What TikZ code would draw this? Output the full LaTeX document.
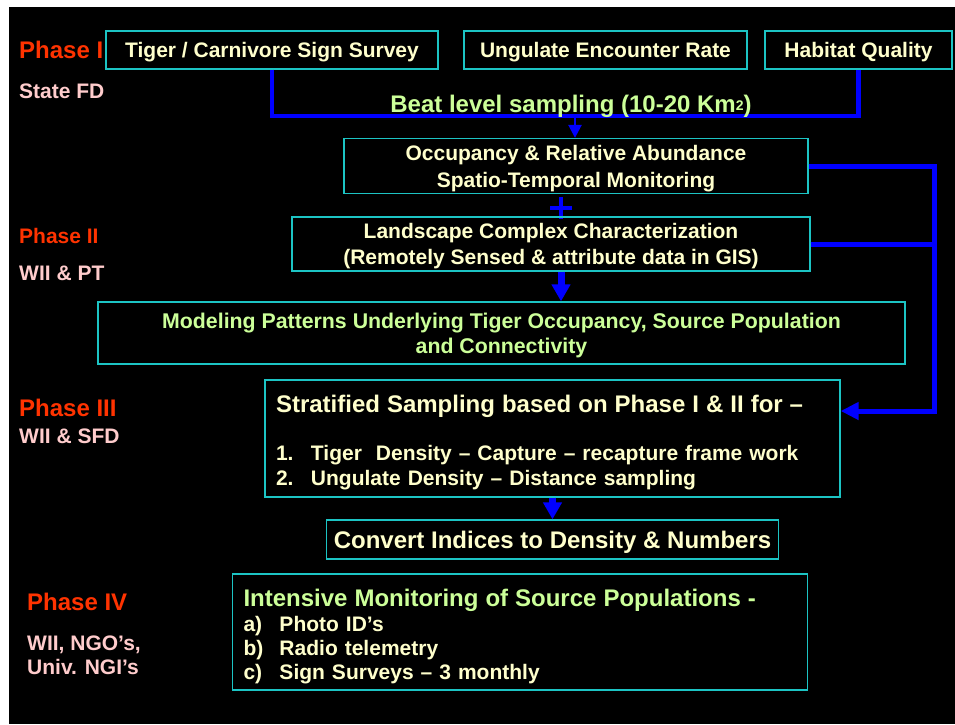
\documentclass[tikz,border=0pt]{standalone}
\usepackage{fontspec}
\setmainfont{Liberation Sans}
\usetikzlibrary{arrows.meta}
\definecolor{boxcyan}{HTML}{1CC4C4}
\definecolor{creamtext}{HTML}{FFFFCC}
\definecolor{greentext}{HTML}{CCFF99}
\definecolor{phasered}{HTML}{FF3300}
\definecolor{agencypink}{HTML}{FFCCCC}
\definecolor{linkblue}{HTML}{0000FF}
\newcommand\colorFrame{boxcyan}
\newcommand\colorLink{linkblue}

\tikzset{
	box/.style={draw=\colorFrame, line width=1.3pt, text=creamtext, inner sep=0pt, text depth=-3pt, align=center, font=\bfseries\fontsize{21}{26}\selectfont},
	listbox/.style={box, text depth={}, align=left, inner xsep=11pt, text width=553pt, minimum width=575pt, font=\bfseries\fontsize{21}{25}\selectfont},
	phase/.style={anchor=west, inner sep=0pt, text=phasered, font=\bfseries\fontsize{24}{28}\selectfont},
	agency/.style={anchor=west, inner sep=0pt, text=agencypink, align=left, font=\bfseries\fontsize{21}{24}\selectfont},
	link/.style={draw=\colorLink, line width=5pt},
	smallarrow/.style={draw=\colorLink, line width=2.5pt, -{Triangle[length=13pt,width=13pt]}},
	bigarrow/.style={draw=\colorLink, line width=7pt, -{Triangle[length=17pt,width=18pt]}}
}

\begin{document}
\begin{tikzpicture}[x=1pt,y=-1pt]
	\useasboundingbox (0,0) rectangle (955,724);
	\fill[white] (0,0) rectangle (955,724);
	\fill[black] (9,7) rectangle (955,724);

	\node[phase] (phaseone) at (19,50) {Phase I};
	\node[agency] (stateFD) at (19,91) {State FD};
	\node[phase, font=\bfseries\fontsize{21}{25}\selectfont] (phasetwo) at (19,236) {Phase II};
	\node[agency] (wiiPT) at (19,273) {WII \& PT};
	\node[phase] (phasethree) at (19,408) {Phase III};
	\node[agency] (wiiSFD) at (19,436) {WII \& SFD};
	\node[phase] (phasefour) at (27,602) {Phase IV};
	\node[agency] (wiiNGO) at (27,655) {WII, NGO's,\\Univ. NGI's};

	\node[box, minimum width=332pt, minimum height=38pt] (tiger) at (272,50) {Tiger / Carnivore Sign Survey};
	\node[box, minimum width=283pt, minimum height=38pt] (ungulate) at (605.5,50) {Ungulate Encounter Rate};
	\node[box, minimum width=187pt, minimum height=38pt] (habitat) at (858.5,50) {Habitat Quality};

	\coordinate (beat) at (575,116);
	\draw[link, line width=4.5pt] (tiger.south) |- (beat) -| (habitat.south);
	\node[anchor=base, inner sep=0pt, text=greentext, font=\bfseries\fontsize{24}{28}\selectfont] (beattext) at (571,112) {Beat level sampling (10-20 Km\raisebox{2pt}{\fontsize{14}{14}\selectfont 2})};

	\node[box, minimum width=464pt, minimum height=55pt, font=\bfseries\fontsize{21}{27}\selectfont] (occupancy) at (576,166) {Occupancy \& Relative Abundance\\Spatio-Temporal Monitoring};
	\draw[smallarrow] (beat) -- (beat |- occupancy.north);

	\draw[draw=\colorLink, line width=3.5pt] (550,208) -- (572,208) (561,197) -- (561,219);

	\node[box, minimum width=518pt, minimum height=54pt] (landscape) at (551,244) {Landscape Complex Characterization\\(Remotely Sensed \& attribute data in GIS)};
	\node[box, text=greentext, minimum width=807pt, minimum height=62pt, font=\bfseries\fontsize{21.3}{25}\selectfont] (modeling) at (501.5,333) {Modeling Patterns Underlying Tiger Occupancy, Source Population\\and Connectivity};

	\coordinate (drop) at ([xshift=10pt]landscape.south);
	\draw[bigarrow] (drop) -- (drop |- modeling.north);

	\node[listbox, minimum height=117pt] (stratified) at (552.5,438.5) {{\fontsize{24}{28}\selectfont\rule{0pt}{26pt}Stratified Sampling based on Phase I \& II for --}\\[23pt]
		\makebox[35pt][l]{1.}Tiger\ \ Density -- Capture -- recapture frame work\\
		\makebox[35pt][l]{2.}Ungulate Density -- Distance sampling};

	\coordinate (rt) at (934,411);
	\draw[link, -{Triangle[length=18pt,width=17pt]}] (occupancy.east) -| (rt) -- (rt -| stratified.east);
	\draw[link] (landscape.east) -- (landscape.east -| rt);

	\node[box, minimum width=452pt, minimum height=39pt, font=\bfseries\fontsize{24}{28}\selectfont] (convert) at (552.5,539.5) {Convert Indices to Density \& Numbers};
	\draw[bigarrow] (stratified.south) -- (convert.north);

	\node[listbox, minimum height=116pt, font=\bfseries\fontsize{21}{24}\selectfont] (intensive) at (520,632) {{\color{greentext}\fontsize{24}{28}\selectfont\rule{0pt}{26pt}Intensive Monitoring of Source Populations -}\\[1pt]
		\makebox[36pt][l]{a)}Photo ID's\\
		\makebox[36pt][l]{b)}Radio telemetry\\
		\makebox[36pt][l]{c)}Sign Surveys -- 3 monthly};
\end{tikzpicture}
\end{document}
